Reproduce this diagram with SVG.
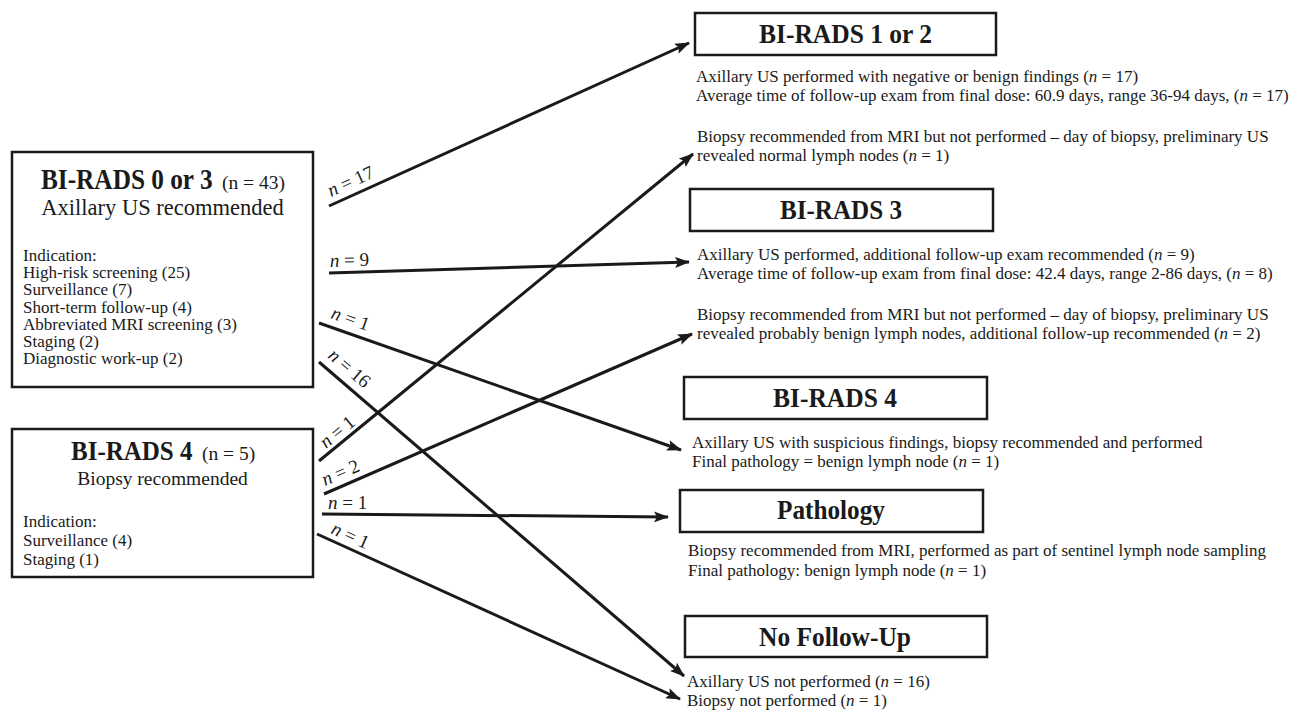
<svg xmlns="http://www.w3.org/2000/svg" width="1293" height="712" viewBox="0 0 1293 712">
<style>
text{font-family:"Liberation Serif","Times New Roman",serif;fill:#1a1a1a}
.box{fill:#fff;stroke:#1a1a1a;stroke-width:2.5}
.ttl{font-weight:bold;font-size:27px}
.sub{font-size:19.5px}
.t{font-size:17px}
.lbl{font-size:19px}
.i{font-style:italic}
.edge{stroke:#1a1a1a;stroke-width:3;fill:none;marker-end:url(#ah)}
</style>
<defs>
<marker id="ah" markerUnits="userSpaceOnUse" viewBox="0 0 15 11" refX="14" refY="5.5" markerWidth="15" markerHeight="11" orient="auto">
<path d="M0,0 L15,5.5 L0,11 L3,5.5 Z" fill="#1a1a1a"/>
</marker>
</defs>
<rect width="1293" height="712" fill="#fff"/>

<g id="src1">
<rect class="box" x="12" y="152" width="301" height="235"/>
<text transform="translate(41,189) scale(1,1.16)" style="font-weight:bold;font-size:25.3px">BI-RADS 0 or 3</text>
<text x="222" y="189" style="font-size:19.5px">(n = 43)</text>
<text x="162.5" y="215" text-anchor="middle" style="font-size:22.5px">Axillary US recommended</text>
<text class="t" x="23" y="261">Indication:</text>
<text class="t" x="23" y="278.2">High-risk screening (25)</text>
<text class="t" x="23" y="295.4">Surveillance (7)</text>
<text class="t" x="23" y="312.6">Short-term follow-up (4)</text>
<text class="t" x="23" y="329.8">Abbreviated MRI screening (3)</text>
<text class="t" x="23" y="347">Staging (2)</text>
<text class="t" x="23" y="364.2">Diagnostic work-up (2)</text>
</g>

<g id="src2">
<rect class="box" x="12" y="429" width="301" height="148"/>
<text transform="translate(71,460) scale(1,1.08)" style="font-weight:bold;font-size:25px">BI-RADS 4</text>
<text x="202" y="460" style="font-size:19.5px">(n = 5)</text>
<text class="sub" x="162.5" y="485" text-anchor="middle">Biopsy recommended</text>
<text class="t" x="23" y="527">Indication:</text>
<text class="t" x="23" y="546">Surveillance (4)</text>
<text class="t" x="23" y="565">Staging (1)</text>
</g>

<g id="birads12">
<rect class="box" x="695" y="13" width="301" height="42"/>
<text class="ttl" x="759" y="43" textLength="173" lengthAdjust="spacingAndGlyphs">BI-RADS 1 or 2</text>
<text class="t" x="696" y="82">Axillary US performed with negative or benign findings (<tspan class="i">n</tspan> = 17)</text>
<text class="t" x="696" y="101">Average time of follow-up exam from final dose: 60.9 days, range 36-94 days, (<tspan class="i">n</tspan> = 17)</text>
</g>

<g id="note-normal">
<text class="t" x="697" y="142">Biopsy recommended from MRI but not performed – day of biopsy, preliminary US</text>
<text class="t" x="697" y="161">revealed normal lymph nodes (<tspan class="i">n</tspan> = 1)</text>
</g>

<g id="birads3">
<rect class="box" x="690" y="189" width="303" height="42"/>
<text class="ttl" x="780" y="219" textLength="122" lengthAdjust="spacingAndGlyphs">BI-RADS 3</text>
<text class="t" x="697" y="260">Axillary US performed, additional follow-up exam recommended (<tspan class="i">n</tspan> = 9)</text>
<text class="t" x="697" y="279">Average time of follow-up exam from final dose: 42.4 days, range 2-86 days, (<tspan class="i">n</tspan> = 8)</text>
</g>

<g id="note-benign">
<text class="t" x="697" y="320">Biopsy recommended from MRI but not performed – day of biopsy, preliminary US</text>
<text class="t" x="697" y="339">revealed probably benign lymph nodes, additional follow-up recommended (<tspan class="i">n</tspan> = 2)</text>
</g>

<g id="birads4">
<rect class="box" x="684" y="377" width="303" height="42"/>
<text class="ttl" x="773" y="407" textLength="124" lengthAdjust="spacingAndGlyphs">BI-RADS 4</text>
<text class="t" x="692" y="448">Axillary US with suspicious findings, biopsy recommended and performed</text>
<text class="t" x="692" y="467">Final pathology = benign lymph node (<tspan class="i">n</tspan> = 1)</text>
</g>

<g id="pathology">
<rect class="box" x="680" y="490" width="303" height="42"/>
<text class="ttl" x="777" y="519" textLength="108" lengthAdjust="spacingAndGlyphs">Pathology</text>
<text class="t" x="688" y="556">Biopsy recommended from MRI, performed as part of sentinel lymph node sampling</text>
<text class="t" x="688" y="576">Final pathology: benign lymph node (<tspan class="i">n</tspan> = 1)</text>
</g>

<g id="nofollowup">
<rect class="box" x="685" y="616" width="302" height="41"/>
<text class="ttl" x="759" y="646" textLength="152" lengthAdjust="spacingAndGlyphs">No Follow-Up</text>
<text class="t" x="687" y="687">Axillary US not performed (<tspan class="i">n</tspan> = 16)</text>
<text class="t" x="687" y="706">Biopsy not performed (<tspan class="i">n</tspan> = 1)</text>
</g>

<g id="connectors">
<line class="edge" x1="329" y1="206" x2="689" y2="43"/>
<line class="edge" x1="329" y1="273" x2="689" y2="262"/>
<line class="edge" x1="319" y1="323" x2="681" y2="450"/>
<line class="edge" x1="319" y1="362" x2="684" y2="676"/>
<line class="edge" x1="319" y1="461" x2="693" y2="154"/>
<line class="edge" x1="324" y1="494" x2="692" y2="334"/>
<line class="edge" x1="322" y1="514" x2="668" y2="517"/>
<line class="edge" x1="317" y1="534" x2="680" y2="699"/>
<text class="lbl" transform="translate(331,197) rotate(-24.5)"><tspan class="i">n</tspan> = 17</text>
<text class="lbl" transform="translate(330,267) rotate(-1.75)"><tspan class="i">n</tspan> = 9</text>
<text class="lbl" transform="translate(330,318) rotate(19.3)"><tspan class="i">n</tspan> = 1</text>
<text class="lbl" transform="translate(327,357) rotate(40.7)"><tspan class="i">n</tspan> = 16</text>
<text class="lbl" transform="translate(326,449) rotate(-39.4)"><tspan class="i">n</tspan> = 1</text>
<text class="lbl" transform="translate(325,486) rotate(-23.5)"><tspan class="i">n</tspan> = 2</text>
<text class="lbl" x="328" y="509"><tspan class="i">n</tspan> = 1</text>
<text class="lbl" transform="translate(330,533) rotate(24.4)"><tspan class="i">n</tspan> = 1</text>
</g>
</svg>
